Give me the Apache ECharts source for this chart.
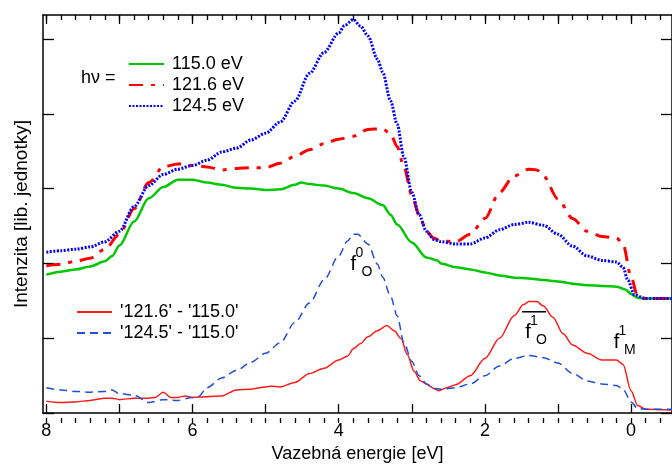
<!DOCTYPE html>
<html>
<head>
<meta charset="utf-8">
<title>Intenzita - vazebna energie</title>
<script src="https://cdn.jsdelivr.net/npm/echarts@6/dist/echarts.min.js"></script>
<style>
    html, body { margin: 0; padding: 0; background: #ffffff; }
    #chart { width: 672px; height: 468px; }
</style>
</head>
<body>
<div id="chart"></div>
<script>
// spektra [vazebna energie eV, intenzita]
const e115 = [[8.0,1.85],[7.8,1.89],[7.6,1.92],[7.4,1.96],[7.2,2.03],[7.1,2.10],[7.0,2.24],[6.8,2.56],[6.6,2.87],[6.4,3.02],[6.2,3.12],[6.0,3.12],[5.8,3.08],[5.6,3.05],[5.4,3.01],[5.2,3.00],[5.0,2.98],[4.8,2.99],[4.6,3.05],[4.51,3.08],[4.4,3.06],[4.2,3.04],[4.0,3.00],[3.8,2.94],[3.6,2.87],[3.4,2.78],[3.29,2.65],[3.2,2.52],[3.0,2.28],[2.8,2.08],[2.65,2.04],[2.6,2.0],[2.4,1.95],[2.2,1.92],[2.0,1.88],[1.8,1.84],[1.6,1.81],[1.4,1.80],[1.2,1.78],[1.0,1.76],[0.8,1.73],[0.6,1.71],[0.4,1.70],[0.2,1.69],[0.07,1.65],[0,1.59],[-0.09,1.54],[-0.2,1.53],[-0.56,1.53]];
const e121 = [[8.0,1.97],[7.8,1.99],[7.6,2.03],[7.4,2.07],[7.2,2.19],[7.0,2.39],[6.8,2.73],[6.6,3.08],[6.4,3.29],[6.2,3.33],[6.0,3.31],[5.8,3.29],[5.6,3.25],[5.4,3.27],[5.2,3.28],[5.0,3.28],[4.8,3.34],[4.6,3.43],[4.4,3.52],[4.2,3.60],[4.0,3.66],[3.8,3.70],[3.6,3.79],[3.4,3.80],[3.29,3.73],[3.2,3.56],[3.11,3.30],[3.0,2.91],[2.9,2.65],[2.8,2.43],[2.7,2.34],[2.6,2.30],[2.4,2.29],[2.2,2.39],[2.0,2.60],[1.8,2.95],[1.6,3.17],[1.4,3.26],[1.29,3.25],[1.2,3.17],[1.0,2.86],[0.8,2.60],[0.6,2.43],[0.4,2.36],[0.2,2.34],[0.11,2.26],[0,1.82],[-0.09,1.56],[-0.2,1.53],[-0.56,1.53]];
const e124 = [[8.0,2.15],[7.8,2.17],[7.6,2.19],[7.4,2.22],[7.2,2.29],[7.0,2.43],[6.8,2.76],[6.6,3.04],[6.4,3.19],[6.2,3.26],[6.0,3.31],[5.8,3.38],[5.6,3.49],[5.4,3.54],[5.2,3.65],[5.0,3.74],[4.8,3.89],[4.6,4.17],[4.4,4.54],[4.2,4.82],[4.0,5.08],[3.92,5.18],[3.8,5.26],[3.7,5.17],[3.6,5.04],[3.47,4.73],[3.4,4.56],[3.29,4.17],[3.2,3.86],[3.11,3.43],[3.0,2.95],[2.9,2.65],[2.8,2.43],[2.7,2.32],[2.6,2.29],[2.4,2.26],[2.2,2.26],[2.0,2.34],[1.8,2.45],[1.6,2.52],[1.4,2.55],[1.2,2.51],[1.0,2.39],[0.8,2.23],[0.6,2.10],[0.4,2.04],[0.2,2.02],[0.11,1.95],[0.045,1.78],[-0.045,1.58],[-0.2,1.53],[-0.56,1.53]];
// rozdilova spektra
const d121 = [[8.0,0.16],[7.8,0.14],[7.6,0.15],[7.4,0.17],[7.2,0.20],[7.1,0.20],[7.0,0.18],[6.8,0.20],[6.6,0.20],[6.51,0.21],[6.4,0.28],[6.3,0.21],[6.2,0.21],[6.1,0.23],[6.0,0.21],[5.8,0.22],[5.6,0.23],[5.4,0.31],[5.2,0.32],[5.0,0.35],[4.92,0.36],[4.8,0.35],[4.6,0.41],[4.4,0.53],[4.2,0.60],[4.0,0.71],[3.88,0.76],[3.8,0.86],[3.7,0.93],[3.6,1.02],[3.47,1.10],[3.34,1.17],[3.24,1.10],[3.15,1.00],[3.06,0.78],[2.97,0.56],[2.88,0.43],[2.8,0.39],[2.7,0.33],[2.63,0.30],[2.52,0.34],[2.4,0.38],[2.2,0.50],[2.0,0.73],[1.8,1.00],[1.6,1.30],[1.47,1.45],[1.4,1.49],[1.29,1.49],[1.2,1.43],[1.07,1.28],[0.93,1.06],[0.8,0.91],[0.6,0.80],[0.4,0.71],[0.2,0.71],[0.11,0.65],[0,0.30],[-0.09,0.10],[-0.2,0.05],[-0.56,0.04]];
const d124 = [[8.0,0.34],[7.8,0.31],[7.6,0.29],[7.4,0.28],[7.2,0.29],[7.1,0.31],[7.0,0.26],[6.8,0.24],[6.6,0.14],[6.4,0.18],[6.2,0.17],[6.0,0.21],[5.92,0.22],[5.8,0.34],[5.6,0.47],[5.4,0.57],[5.2,0.68],[5.0,0.80],[4.8,0.94],[4.6,1.21],[4.4,1.47],[4.2,1.78],[4.0,2.10],[3.88,2.30],[3.8,2.39],[3.74,2.39],[3.6,2.26],[3.47,1.99],[3.4,1.82],[3.29,1.56],[3.2,1.30],[3.11,0.95],[3.0,0.69],[2.9,0.50],[2.8,0.39],[2.7,0.33],[2.6,0.32],[2.4,0.34],[2.2,0.39],[2.0,0.50],[1.8,0.63],[1.6,0.73],[1.4,0.77],[1.2,0.74],[1.0,0.67],[0.8,0.53],[0.6,0.43],[0.4,0.39],[0.2,0.37],[0.11,0.32],[0,0.15],[-0.09,0.06],[-0.2,0.05],[-0.56,0.05]];

const xLabels = [0, 2, 4, 6, 8];
const xMajor = [0, 1, 2, 3, 4, 5, 6, 7, 8];
const yTicks = [0, 1, 2, 3, 4, 5];
// popisky piku: [text, horni index, dolni index, energie, intenzita]
const peaks = [
    ['f', '0', 'O', 3.80, 1.99],
    ['f', '1', 'O', 1.41, 1.08],
    ['f', '1', 'M', 0.20, 0.945]
];

const xMinor = [];
for (let i = -2; i <= 40; i++) xMinor.push(Math.round(i * 20) / 100);

const FONT = "'Liberation Sans', Arial, sans-serif";
const X_MIN = -0.56, X_MAX = 8.046, Y_MIN = 0, Y_MAX = 5.32;

let myChart = echarts.init(document.getElementById('chart'), null, {renderer: 'canvas'});

const gridBox = { left: 43, right: -4, top: 15, bottom: 45 };

function xAx(grid, pos, major) {
    return {
        type: 'value', gridIndex: grid, position: pos, inverse: true,
        min: X_MIN, max: X_MAX,
        axisLine: { show: major, onZero: false, lineStyle: { color: '#000', width: 1.5 } },
        axisTick: { inside: true, length: major ? 9 : 5, customValues: major ? xMajor : xMinor,
            lineStyle: { color: '#000', width: 1.3 } },
        axisLabel: (major && pos === 'bottom') ? {
            customValues: xLabels, margin: 9, color: '#000', fontSize: 18, fontFamily: FONT
        } : { show: false },
        splitLine: { show: false }
    };
}

function yAx(grid, pos, show) {
    return {
        type: 'value', gridIndex: grid, position: pos, show: show,
        min: Y_MIN, max: Y_MAX,
        axisLine: { show: true, onZero: false, lineStyle: { color: '#000', width: 1.5 } },
        axisTick: { inside: true, length: 11, customValues: yTicks, lineStyle: { color: '#000', width: 1.3 } },
        axisLabel: { show: false },
        splitLine: { show: false }
    };
}

let xMain = xAx(0, 'bottom', true);
xMain.name = 'Vazebná energie [eV]';
xMain.nameLocation = 'middle';
xMain.nameGap = 30;
xMain.nameTextStyle = { color: '#000', fontSize: 18, fontFamily: FONT };

let yMain = yAx(0, 'left', true);
yMain.name = 'Intenzita [lib. jednotky]';
yMain.nameLocation = 'middle';
yMain.nameGap = 12;
yMain.nameTextStyle = { color: '#000', fontSize: 19, fontFamily: FONT };

function line(name, data, color, width, type) {
    return {
        name: name, type: 'line', data: data,
        xAxisIndex: 0, yAxisIndex: 0,
        symbol: 'none', smooth: 0.3, smoothMonotone: 'x',
        lineStyle: { color: color, width: width, type: type },
        itemStyle: { color: color },
        z: 3
    };
}

const legendText = { color: '#000', fontSize: 18, fontFamily: FONT, lineHeight: 20, padding: [0, 0, 0, 3] };

myChart.setOption({
    animation: false,
    backgroundColor: '#ffffff',
    grid: [gridBox, gridBox],
    xAxis: [xMain, xAx(0, 'top', true), xAx(1, 'bottom', false), xAx(1, 'top', false)],
    yAxis: [yMain, yAx(0, 'right', true), yAx(1, 'left', false)],
    legend: [
        {
            data: ['115.0 eV', '121.6 eV', '124.5 eV'],
            orient: 'vertical', left: 123, top: 49,
            itemWidth: 35, itemHeight: 14, itemGap: 1,
            itemStyle: { opacity: 0 },
            textStyle: legendText
        },
        {
            data: ["'121.6' - '115.0'", "'124.5' - '115.0'"],
            orient: 'vertical', left: 71, top: 297,
            itemWidth: 35, itemHeight: 14, itemGap: 1,
            itemStyle: { opacity: 0 },
            textStyle: legendText
        }
    ],
    series: [
        line('115.0 eV', e115, '#00c800', 2.5, 'solid'),
        line('121.6 eV', e121, '#ff0000', 3, [14, 8, 4, 8]),
        line('124.5 eV', e124, '#0000ff', 3, [2, 1.5]),
        line("'121.6' - '115.0'", d121, '#ff1a1a', 1.5, 'solid'),
        line("'124.5' - '115.0'", d124, '#1f4fd8', 1.5, [8, 5])
    ]
});

// popisky piku a "hv ="
let g = [{
    type: 'text', left: 81, top: 69,
    style: { text: 'hν =', fill: '#000', font: '18px ' + FONT }
}];
peaks.forEach(function (p, i) {
    const c = myChart.convertToPixel({ xAxisIndex: 0, yAxisIndex: 0 }, [p[3], p[4]]);
    const kids = [
        { type: 'text', x: c[0], y: c[1], style: { text: p[0], fill: '#000', font: '20px ' + FONT, align: 'center', verticalAlign: 'middle' } },
        { type: 'text', x: c[0] + 6, y: c[1] - 11, style: { text: p[1], fill: '#000', font: '14px ' + FONT, align: 'center', verticalAlign: 'middle' } },
        { type: 'text', x: c[0] + 13.5, y: c[1] + 8, style: { text: p[2], fill: '#000', font: '14px ' + FONT, align: 'center', verticalAlign: 'middle' } }
    ];
    if (i === 1) {
        kids.push({ type: 'line', shape: { x1: c[0] - 6, y1: c[1] - 20.5, x2: c[0] + 18, y2: c[1] - 20.5 }, style: { stroke: '#000', lineWidth: 1.5 } });
    }
    g = g.concat(kids);
});
myChart.setOption({ graphic: g });
window.onresize = myChart.resize;
</script>
</body>
</html>
